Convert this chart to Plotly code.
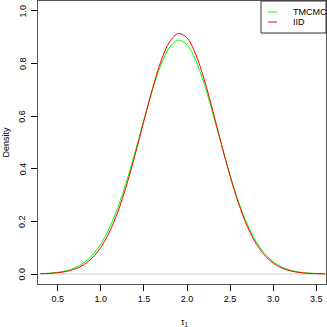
import plotly.graph_objects as go

x_vals = [0.3, 0.4, 0.5, 0.6, 0.7, 0.8, 0.9, 1.0, 1.1, 1.2, 1.3, 1.4, 1.5, 1.6, 1.7, 1.8, 1.9,
          2.0, 2.1, 2.2, 2.3, 2.4, 2.5, 2.6, 2.7, 2.8, 2.9, 3.0, 3.1, 3.2, 3.3, 3.4, 3.5, 3.6]
tmcmc_density = [0.0014, 0.0031, 0.0064, 0.0126, 0.0235, 0.0419, 0.0708, 0.1141, 0.1747, 0.2547,
                 0.3533, 0.4665, 0.5860, 0.7005, 0.7969, 0.8627, 0.8889, 0.8713, 0.8129, 0.7216,
                 0.6097, 0.4901, 0.3750, 0.2730, 0.1891, 0.1246, 0.0782, 0.0467, 0.0265, 0.0143,
                 0.0074, 0.0036, 0.0017, 0.0007]
iid_density = [0.0010, 0.0022, 0.0047, 0.0097, 0.0188, 0.0348, 0.0609, 0.1012, 0.1595, 0.2385,
               0.3384, 0.4555, 0.5817, 0.7048, 0.8102, 0.8837, 0.9146, 0.8978, 0.8362, 0.7390,
               0.6196, 0.4929, 0.3720, 0.2664, 0.1809, 0.1166, 0.0713, 0.0414, 0.0228, 0.0119,
               0.0059, 0.0028, 0.0012, 0.0005]
x_ticks = [0.5, 1.0, 1.5, 2.0, 2.5, 3.0, 3.5]
y_ticks = [0.0, 0.2, 0.4, 0.6, 0.8, 1.0]
y_tick_labels = ["0.0", "0.2", "0.4", "0.6", "0.8", "1.0"]
legend_names = ["TMCMC", "IID"]
colors = ["#00FF00", "#FF0000"]

FONT = "Liberation Sans, Arial, sans-serif"

fig = go.Figure()
fig.add_trace(go.Scatter(x=x_vals, y=tmcmc_density, mode="lines", name=legend_names[0],
                         line=dict(color=colors[0], width=1, shape="spline"), showlegend=False))
fig.add_trace(go.Scatter(x=x_vals, y=iid_density, mode="lines", name=legend_names[1],
                         line=dict(color=colors[1], width=1, shape="spline"), showlegend=False))

W, H = 327, 327
L, R, T, B = 38, 1, 1, 43
pw, ph = W - L - R, H - T - B

def px(xp):
    return (xp - L) / pw

def py(yp):
    return (H - B - yp) / ph

shapes = []
# zero line
shapes.append(dict(type="line", xref="paper", yref="y", x0=0, x1=1, y0=0, y1=0,
                   line=dict(color="#D0D0D0", width=1), layer="below"))
# legend box
shapes.append(dict(type="rect", xref="paper", yref="paper", x0=px(261), x1=1, y0=py(33), y1=1,
                   line=dict(color="#333333", width=1), fillcolor="white"))
annotations = []
for i, (nm, c) in enumerate(zip(legend_names, colors)):
    yy = py(12 + 10 * i)
    shapes.append(dict(type="line", xref="paper", yref="paper", x0=px(268), x1=px(277),
                       y0=yy, y1=yy, line=dict(color=c, width=1)))
    annotations.append(dict(text=nm, xref="paper", yref="paper", x=px(291), y=yy,
                            xanchor="left", yanchor="middle", showarrow=False,
                            font=dict(size=9, color="black", family=FONT)))

# rotated y tick labels
for v, t in zip(y_ticks, y_tick_labels):
    annotations.append(dict(text=t, xref="paper", yref="y", x=px(22.5), y=v,
                            textangle=-90, showarrow=False, xanchor="center", yanchor="middle",
                            font=dict(size=9, color="black", family=FONT)))

annotations.append(dict(text="Density", xref="paper", yref="paper", x=px(5), y=py(142.5),
                        textangle=-90, showarrow=False, xanchor="center", yanchor="middle",
                        font=dict(size=9, color="black", family=FONT)))
annotations.append(dict(text="τ<sub>1</sub>", xref="paper", yref="paper", x=px(185), y=py(322),
                        showarrow=False, xanchor="center", yanchor="middle",
                        font=dict(size=9, color="black", family=FONT)))

fig.update_layout(
    width=W, height=H,
    margin=dict(l=L, r=R, t=T, b=B),
    paper_bgcolor="white", plot_bgcolor="white",
    font=dict(family=FONT, size=9, color="black"),
    shapes=shapes, annotations=annotations,
    xaxis=dict(range=[0.272, 3.612], tickvals=x_ticks, ticktext=[f"{v:.1f}" for v in x_ticks],
               ticks="outside", ticklen=6, tickcolor="black", showgrid=False, zeroline=False,
               showline=True, mirror=True, linecolor="#555555", linewidth=1,
               tickfont=dict(size=9, family=FONT)),
    yaxis=dict(range=[-0.038, 1.038], tickvals=y_ticks, showticklabels=False,
               ticks="outside", ticklen=6, tickcolor="black", showgrid=False, zeroline=False,
               showline=True, mirror=True, linecolor="#555555", linewidth=1),
)

fig.write_html("out.html", post_script="document.body.style.margin='0px';",
               config={"displayModeBar": False})
